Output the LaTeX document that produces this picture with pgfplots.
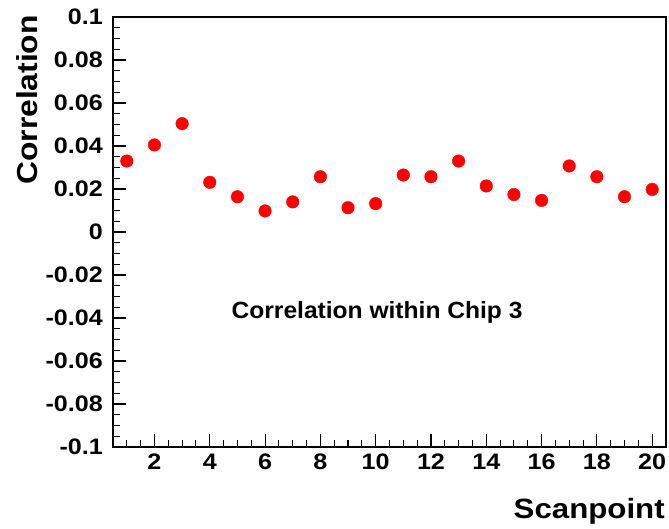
\documentclass[border=0pt]{standalone}
\usepackage{fontspec}
\setmainfont{Liberation Sans}
\newfontfamily\tickfont{Liberation Sans}[FakeStretch=1.12]
\newfontfamily\ylabfont{Liberation Sans}[FakeStretch=1.1]
\newfontfamily\centfont{Liberation Sans}[FakeStretch=1.05]
\usepackage{pgfplots}
\pgfplotsset{compat=1.18}
\begin{document}
\begin{tikzpicture}
\begin{axis}[
  scale only axis,
  width=553bp, height=430bp,
  xmin=0.5, xmax=20.5,
  ymin=-0.1, ymax=0.1,
  axis line style={line width=1.4bp},
  every tick/.style={black, line width=1.1bp},
  tick align=inside,
  xtick pos=bottom, ytick pos=left,
  major tick length=13bp,
  minor tick length=7bp,
  xtick={0,2,4,6,8,10,12,14,16,18,20},
  xticklabels={0,2,4,6,8,10,12,14,16,18,20},
  minor x tick num=3,
  ytick={-0.1,-0.08,-0.06,-0.04,-0.02,0,0.02,0.04,0.06,0.08,0.1},
  yticklabels={-0.1,-0.08,-0.06,-0.04,-0.02,0,0.02,0.04,0.06,0.08,0.1},
  minor y tick num=3,
  ticklabel style={font=\tickfont\fontsize{22.5}{25}\selectfont\bfseries, inner sep=0pt},
  yticklabel style={xshift=-10bp},
  xticklabel style={yshift=-7bp},
  xlabel={Scanpoint},
  ylabel={Correlation},
  every axis x label/.style={at={(rel axis cs:0.998,-0.1186)}, anchor=north east, inner sep=0pt, font=\tickfont\fontsize{28}{31}\selectfont\bfseries},
  every axis y label/.style={at={(rel axis cs:-0.1754,1.0047)}, rotate=90, anchor=north east, inner sep=0pt, font=\ylabfont\fontsize{29}{32}\selectfont\bfseries},
  clip=false,
]
\addplot[only marks, mark=*, mark size=6.3bp, color=red, mark options={fill=red, draw=red}] coordinates {
(1,0.0330) (2,0.0405) (3,0.0504) (4,0.0231) (5,0.0164)
(6,0.0098) (7,0.0140) (8,0.0257) (9,0.0113) (10,0.0132)
(11,0.0265) (12,0.0257) (13,0.0330) (14,0.0214) (15,0.0174)
(16,0.0147) (17,0.0307) (18,0.0257) (19,0.0164) (20,0.0198)
};
\node[font=\centfont\fontsize{23.5}{26}\selectfont\bfseries, anchor=base, inner sep=0pt] at (axis cs:10.05,-0.0403) {Correlation within Chip 3};
\end{axis}
\pgfresetboundingbox
\path ([shift={(-113bp,-82bp)}]current axis.south west) rectangle ([shift={(3bp,17bp)}]current axis.north east);
\end{tikzpicture}
\end{document}
